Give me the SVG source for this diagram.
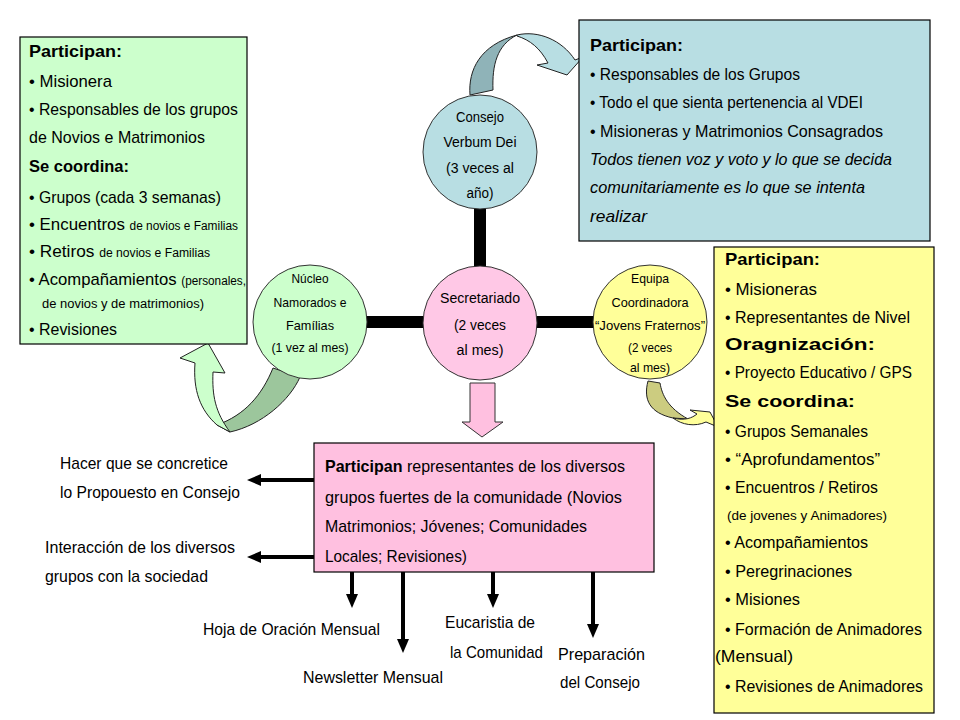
<svg xmlns="http://www.w3.org/2000/svg" width="960" height="720" viewBox="0 0 960 720">
<defs>
<style>
text{font-family:"Liberation Sans","DejaVu Sans",sans-serif;fill:#000}
.t{font-size:17px}
.b{font-weight:bold}
.s{font-size:12px}
.c{font-size:14px;text-anchor:middle}
.c2{font-size:13px;text-anchor:middle}
.box{stroke:#000;stroke-width:1.2}
.circ{stroke:#333;stroke-width:1}
.bar{stroke:#000;stroke-width:12;fill:none}
.arr{stroke:#000;stroke-width:4;fill:none;marker-end:url(#ah)}
.band{stroke:#222;stroke-width:1}
</style>
<marker id="ah" markerUnits="userSpaceOnUse" markerWidth="15" markerHeight="12" refX="8" refY="6" orient="auto">
<path d="M0,0 L14,6 L0,12 Z" fill="#000"/>
</marker>
</defs>
<rect width="960" height="720" fill="#fff"/>

<g id="connectors">
<line class="bar" x1="480" y1="205" x2="480" y2="270"/>
<line class="bar" x1="365" y1="322" x2="425" y2="322"/>
<line class="bar" x1="535" y1="322" x2="594" y2="322"/>
<line class="arr" x1="314" y1="480" x2="253" y2="480"/>
<line class="arr" x1="314" y1="557" x2="253" y2="557"/>
<line class="arr" x1="352" y1="572" x2="352" y2="602"/>
<line class="arr" x1="403" y1="572" x2="403" y2="647"/>
<line class="arr" x1="493" y1="572" x2="493" y2="602"/>
<line class="arr" x1="593" y1="572" x2="593" y2="632"/>
<polygon points="470,383 495,383 495,422 503,422 482,437 462,422 470,422" fill="#ffc0e0" stroke="#333" stroke-width="1"/>
<path class="band" d="M470,95 C468,70 480,45 517,35 C497,45 492,65 493,90 Z" fill="#8fb3b8"/>
<path class="band" d="M517,35 C538,30 562,40 575,60 L583,57 L567,75 L537,65 L548,63 C540,48 530,40 517,36 Z" fill="#b8dee3"/>
<path class="band" d="M273,368 C262,395 245,415 217,425 L230,432 C262,425 290,400 300,377 Z" fill="#9cc69c"/>
<path class="band" d="M217,425 C200,410 193,390 195,363 L180,358 L208,343 L225,373 L213,372 C212,395 215,412 230,432 Z" fill="#ccffcc"/>
<path class="band" d="M648,381 C643,400 650,413 673,418 L688,419 C668,408 662,395 660,383 Z" fill="#cccc80"/>
<path class="band" d="M673,418 C685,421 692,418 697,414 L690,410 L710,412 L718,427 L706,422 C695,427 682,425 673,418 Z" fill="#ffff99"/>
</g>

<g id="box-green">
<rect class="box" x="20" y="37" width="227" height="307" fill="#ccffcc"/>
<text class="t b" x="29" y="57" textLength="93" lengthAdjust="spacingAndGlyphs">Participan:</text>
<text class="t" x="29" y="87" textLength="83" lengthAdjust="spacingAndGlyphs">• Misionera</text>
<text class="t" x="29" y="115" textLength="209" lengthAdjust="spacingAndGlyphs">• Responsables de los grupos</text>
<text class="t" x="29" y="143" textLength="176" lengthAdjust="spacingAndGlyphs">de Novios e Matrimonios</text>
<text class="t b" x="29" y="172" textLength="100" lengthAdjust="spacingAndGlyphs">Se coordina:</text>
<text class="t" x="29" y="203" textLength="192" lengthAdjust="spacingAndGlyphs">• Grupos (cada 3 semanas)</text>
<text class="t" x="29" y="230" textLength="209" lengthAdjust="spacingAndGlyphs">• Encuentros <tspan class="s">de novios e Familias</tspan></text>
<text class="t" x="29" y="257" textLength="181" lengthAdjust="spacingAndGlyphs">• Retiros <tspan class="s">de novios e Familias</tspan></text>
<text class="t" x="29" y="285" textLength="217" lengthAdjust="spacingAndGlyphs">• Acompañamientos <tspan class="s">(personales,</tspan></text>
<text class="s" x="42" y="308" textLength="162" lengthAdjust="spacingAndGlyphs">de novios y de matrimonios)</text>
<text class="t" x="29" y="335" textLength="88" lengthAdjust="spacingAndGlyphs">• Revisiones</text>
</g>

<g id="box-blue">
<rect class="box" x="579" y="20" width="351" height="221" fill="#b8dee3"/>
<text class="t b" x="590" y="51" textLength="93" lengthAdjust="spacingAndGlyphs">Participan:</text>
<text class="t" x="590" y="80" textLength="210" lengthAdjust="spacingAndGlyphs">• Responsables de los Grupos</text>
<text class="t" x="590" y="108" textLength="273" lengthAdjust="spacingAndGlyphs">• Todo el que sienta pertenencia al VDEI</text>
<text class="t" x="590" y="137" textLength="293" lengthAdjust="spacingAndGlyphs">• Misioneras y Matrimonios Consagrados</text>
<text class="t" x="590" y="165" font-style="italic" textLength="302" lengthAdjust="spacingAndGlyphs">Todos tienen voz y voto y lo que se decida</text>
<text class="t" x="590" y="193" font-style="italic" textLength="275" lengthAdjust="spacingAndGlyphs">comunitariamente es lo que se intenta</text>
<text class="t" x="590" y="222" font-style="italic" textLength="57" lengthAdjust="spacingAndGlyphs">realizar</text>
</g>

<g id="box-yellow">
<rect class="box" x="714" y="247" width="220" height="466" fill="#ffff99"/>
<text class="t b" x="725" y="265" textLength="95" lengthAdjust="spacingAndGlyphs">Participan:</text>
<text class="t" x="725" y="295" textLength="92" lengthAdjust="spacingAndGlyphs">• Misioneras</text>
<text class="t" x="725" y="323" textLength="185" lengthAdjust="spacingAndGlyphs">• Representantes de Nivel</text>
<text class="t b" x="725" y="350" textLength="150" lengthAdjust="spacingAndGlyphs">Oragnización:</text>
<text class="t" x="725" y="378" textLength="187" lengthAdjust="spacingAndGlyphs">• Proyecto Educativo / GPS</text>
<text class="t b" x="725" y="407" textLength="130" lengthAdjust="spacingAndGlyphs">Se coordina:</text>
<text class="t" x="725" y="437" textLength="143" lengthAdjust="spacingAndGlyphs">• Grupos Semanales</text>
<text class="t" x="725" y="465" textLength="155" lengthAdjust="spacingAndGlyphs">• “Aprofundamentos”</text>
<text class="t" x="725" y="493" textLength="153" lengthAdjust="spacingAndGlyphs">• Encuentros / Retiros</text>
<text class="s" x="727" y="520" textLength="160" lengthAdjust="spacingAndGlyphs">(de jovenes y Animadores)</text>
<text class="t" x="725" y="548" textLength="143" lengthAdjust="spacingAndGlyphs">• Acompañamientos</text>
<text class="t" x="725" y="577" textLength="127" lengthAdjust="spacingAndGlyphs">• Peregrinaciones</text>
<text class="t" x="725" y="605" textLength="75" lengthAdjust="spacingAndGlyphs">• Misiones</text>
<text class="t" x="725" y="635" textLength="197" lengthAdjust="spacingAndGlyphs">• Formación de Animadores</text>
<text class="t" x="715" y="662" textLength="78" lengthAdjust="spacingAndGlyphs">(Mensual)</text>
<text class="t" x="725" y="692" textLength="198" lengthAdjust="spacingAndGlyphs">• Revisiones de Animadores</text>
</g>

<g id="box-pink">
<rect class="box" x="314" y="443" width="340" height="129" fill="#ffc0e0"/>
<text class="t" x="325" y="472" textLength="300" lengthAdjust="spacingAndGlyphs"><tspan class="b">Participan</tspan> representantes de los diversos</text>
<text class="t" x="325" y="503" textLength="297" lengthAdjust="spacingAndGlyphs">grupos  fuertes de la comunidade (Novios</text>
<text class="t" x="325" y="532" textLength="262" lengthAdjust="spacingAndGlyphs">Matrimonios; Jóvenes; Comunidades</text>
<text class="t" x="325" y="562" textLength="142" lengthAdjust="spacingAndGlyphs">Locales; Revisiones)</text>
</g>

<g id="node-consejo">
<circle class="circ" cx="480" cy="152" r="57" fill="#b8dee3"/>
<text class="c" x="480" y="122" textLength="48" lengthAdjust="spacingAndGlyphs">Consejo</text>
<text class="c" x="480" y="147" textLength="73" lengthAdjust="spacingAndGlyphs">Verbum Dei</text>
<text class="c" x="480" y="173" textLength="68" lengthAdjust="spacingAndGlyphs">(3 veces al</text>
<text class="c" x="480" y="198" textLength="27" lengthAdjust="spacingAndGlyphs">año)</text>
</g>

<g id="node-secretariado">
<circle class="circ" cx="480" cy="323" r="57" fill="#ffc8e6"/>
<text class="c" x="480" y="303" textLength="80" lengthAdjust="spacingAndGlyphs">Secretariado</text>
<text class="c" x="480" y="330" textLength="52" lengthAdjust="spacingAndGlyphs">(2 veces</text>
<text class="c" x="480" y="355" textLength="47" lengthAdjust="spacingAndGlyphs">al mes)</text>
</g>

<g id="node-nucleo">
<circle class="circ" cx="310" cy="322" r="57" fill="#ccffcc"/>
<text class="c2" x="310" y="283" textLength="37" lengthAdjust="spacingAndGlyphs">Núcleo</text>
<text class="c2" x="310" y="307" textLength="73" lengthAdjust="spacingAndGlyphs">Namorados e</text>
<text class="c2" x="310" y="330" textLength="48" lengthAdjust="spacingAndGlyphs">Famílias</text>
<text class="c2" x="310" y="352" textLength="77" lengthAdjust="spacingAndGlyphs">(1 vez al mes)</text>
</g>

<g id="node-equipa">
<circle class="circ" cx="650" cy="322" r="57" fill="#ffff99"/>
<text class="c2" x="650" y="283" textLength="38" lengthAdjust="spacingAndGlyphs">Equipa</text>
<text class="c2" x="650" y="307" textLength="77" lengthAdjust="spacingAndGlyphs">Coordinadora</text>
<text class="c2" x="650" y="330" textLength="110" lengthAdjust="spacingAndGlyphs">“Jovens Fraternos”</text>
<text class="c2" x="650" y="352" textLength="44" lengthAdjust="spacingAndGlyphs">(2 veces</text>
<text class="c2" x="650" y="372" textLength="40" lengthAdjust="spacingAndGlyphs">al mes)</text>
</g>

<g id="labels">
<text class="t" x="60" y="469" textLength="168" lengthAdjust="spacingAndGlyphs">Hacer que se concretice</text>
<text class="t" x="60" y="498" textLength="180" lengthAdjust="spacingAndGlyphs">lo Propouesto en Consejo</text>
<text class="t" x="45" y="553" textLength="190" lengthAdjust="spacingAndGlyphs">Interacción de los diversos</text>
<text class="t" x="45" y="582" textLength="163" lengthAdjust="spacingAndGlyphs">grupos con la sociedad</text>
<text class="t" x="203" y="635" textLength="177" lengthAdjust="spacingAndGlyphs">Hoja de Oración Mensual</text>
<text class="t" x="303" y="683" textLength="140" lengthAdjust="spacingAndGlyphs">Newsletter Mensual</text>
<text class="t" x="445" y="628" textLength="90" lengthAdjust="spacingAndGlyphs">Eucaristia de</text>
<text class="t" x="450" y="658" textLength="93" lengthAdjust="spacingAndGlyphs">la Comunidad</text>
<text class="t" x="558" y="660" textLength="87" lengthAdjust="spacingAndGlyphs">Preparación</text>
<text class="t" x="560" y="688" textLength="80" lengthAdjust="spacingAndGlyphs">del Consejo</text>
</g>
</svg>
